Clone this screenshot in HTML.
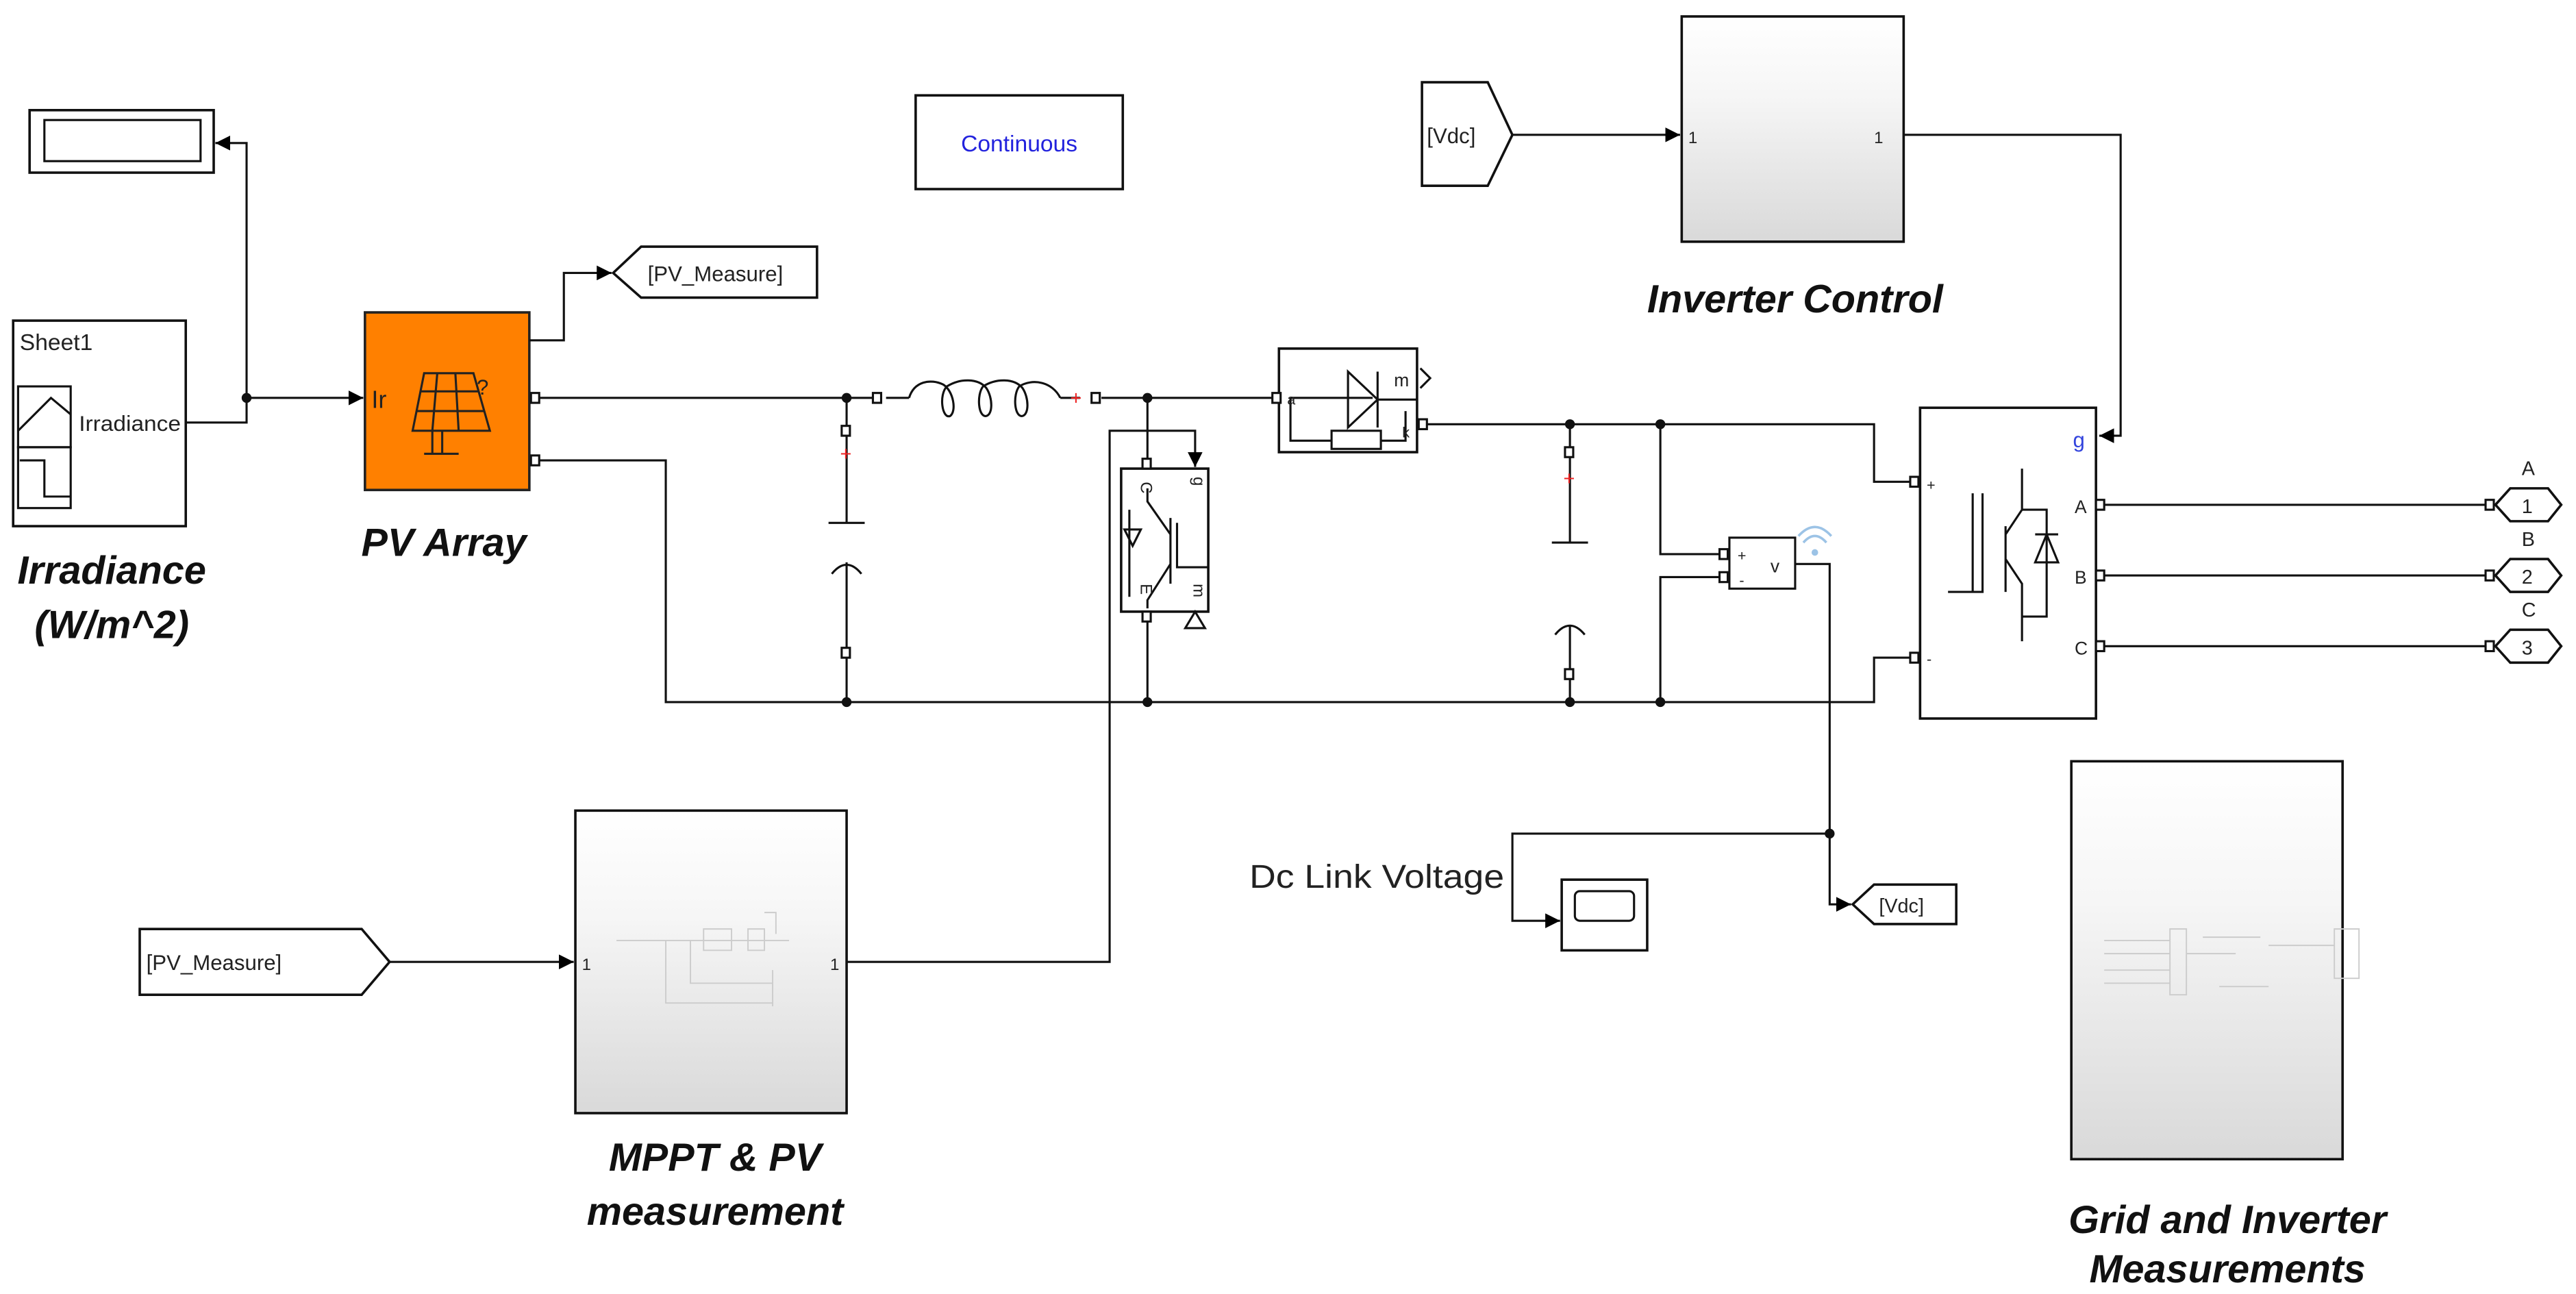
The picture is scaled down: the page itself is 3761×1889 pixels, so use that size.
<!DOCTYPE html>
<html><head><meta charset="utf-8"><style>
html,body{margin:0;padding:0;background:#fff;}
svg{display:block;}
text{font-family:"Liberation Sans",Arial,sans-serif;}
.b{font-weight:bold;font-style:italic;font-size:24px;fill:#111;}
</style></head><body>
<svg width="3761" height="1889" viewBox="0 0 1567 787" preserveAspectRatio="none" xmlns="http://www.w3.org/2000/svg">
<defs>
<linearGradient id="g1" x1="0" y1="0" x2="0" y2="1"><stop offset="0" stop-color="#fff"/><stop offset="0.35" stop-color="#f6f6f6"/><stop offset="1" stop-color="#d9d9d9"/></linearGradient>
<marker id="ar" viewBox="0 0 10 10" refX="10" refY="5" markerWidth="9" markerHeight="9" markerUnits="userSpaceOnUse" orient="auto"><path d="M0,0L10,5L0,10z" fill="#000"/></marker>
</defs>
<g fill="none" stroke="#111" stroke-width="1.3">
<rect x="18" y="67" width="112" height="38" fill="#fff" stroke-width="1.5"/>
<rect x="27" y="73" width="95" height="25"/>
<rect x="8" y="195" width="105" height="125" fill="#fff" stroke-width="1.5"/>
<rect x="11" y="235" width="32" height="37"/>
<rect x="11" y="272" width="32" height="37"/>
<path d="M11,262 L31,242 L43,252"/>
<path d="M12,280 L27,280 L27,302 L43,302"/>
<path d="M113,257 H150 V87 H131" marker-end="url(#ar)"/>
<path d="M150,242 H221" marker-end="url(#ar)"/>
<rect x="222" y="190" width="100" height="108" fill="#ff8000" stroke="#222" stroke-width="1.5"/>
<path d="M258,227 L288,227 L298,262 L251,262 Z M256,238 L291,238 M253,250 L295,250 M266,227 L263,262 M277,227 L279,262 M263,262 V276 M269,262 V276 M258,276 H279" stroke="#222"/>
<path d="M322,207 H343 V166 H372" marker-end="url(#ar)"/>
<path d="M373,166 L390,150 H497 V181 H390 Z" fill="#fff" stroke-width="1.5"/>
<path d="M326,242 H533"/>
<path d="M539,242 H553 M645,242 H657 M670,242 H775"/>
<path d="M553,242 C556,232 566,230 574,234 C580,238 582,250 578,253 C573,255 571,240 576,235 C584,230 595,230 600,236 C604,242 604,252 600,253 C595,254 594,240 598,235 C606,230 617,230 622,236 C626,242 626,252 622,253 C617,254 616,240 620,235 C628,230 640,232 645,242"/>
<path d="M326,280 H405 V427 H1140 V400 H1162"/>
<path d="M515,242 V318 M504,318 H526 M506,349 Q515,338 524,349 M515,342 V427"/>
<path d="M698,242 V282 M698,375 V427"/>
<path d="M515,585 H675 V262 H727 V284" marker-end="url(#ar)"/>
<rect x="682" y="285" width="53" height="87" fill="#fff" stroke-width="1.5"/>
<path d="M698,297 V305 L712,325 M712,315 V355 M716,318 V345 H735 M712,343 L698,365 V370 M687,310 V363 M684,322 H694 L689,332 Z"/>
<path d="M727,372 L733,382 L721,382 Z" fill="#fff"/>
<rect x="778" y="212" width="84" height="63" fill="#fff" stroke-width="1.5"/>
<path d="M785,242 H835 M820,226 V260 L838,243 Z M838,226 V260 M838,243 H862 M785,242 V268 H810 M810,262 H840 V273 H810 Z M840,268 H855 V250"/>
<path d="M864,224 L870,230 L864,236" fill="none"/>
<path d="M866,258 H1140 V293 H1162"/>
<path d="M955,258 V330 M944,330 H966 M946,386 Q955,375 964,386 M955,380 V427"/>
<path d="M1010,258 V337 H1047 M1010,427 V351 H1047"/>
<rect x="1052" y="327" width="40" height="31" fill="#fff"/>
<path d="M1092,343 H1113 V550 H1126" marker-end="url(#ar)"/>
<path d="M1113,507 H920 V560 H949" marker-end="url(#ar)"/>
<rect x="950" y="535" width="52" height="43" fill="#fff" stroke-width="1.5"/>
<rect x="958" y="542" width="36" height="18" rx="3"/>
<path d="M1127,550 L1140,538 H1190 V562 H1140 Z" fill="#fff" stroke-width="1.5"/>
<rect x="1168" y="248" width="107" height="189" fill="#fff" stroke-width="1.5"/>
<path d="M1230,285 V310 L1220,325 M1200,300 V360 M1206,300 V360 H1185 M1220,320 V360 M1220,340 L1230,355 V390 M1230,310 H1245 V375 H1230 M1238,325 H1252 M1245,325 L1238,342 H1252 Z"/>
<path d="M1280,307 H1512 M1280,350 H1512 M1280,393 H1512"/>
<path d="M1518,307 L1527,297 H1550 L1558,307 L1550,317 H1527 Z M1518,350 L1527,340 H1550 L1558,350 L1550,360 H1527 Z M1518,393 L1527,383 H1550 L1558,393 L1550,403 H1527 Z" fill="#fff" stroke-width="1.5"/>
<rect x="557" y="58" width="126" height="57" fill="#fff" stroke-width="1.5"/>
<rect x="1023" y="10" width="135" height="137" fill="url(#g1)" stroke-width="1.5"/>
<path d="M865,50 H905 L920,82 L905,113 H865 Z" fill="#fff" stroke-width="1.5"/>
<path d="M920,82 H1022" marker-end="url(#ar)"/>
<path d="M1158,82 H1290 V265 H1277" marker-end="url(#ar)"/>
<rect x="350" y="493" width="165" height="184" fill="url(#g1)" stroke-width="1.5"/>
<path d="M85,565 H220 L237,585 L220,605 H85 Z" fill="#fff" stroke-width="1.5"/>
<path d="M237,585 H349" marker-end="url(#ar)"/>
<g stroke="#ccc" stroke-width="0.8"><path d="M375,572 H480 M405,572 V610 H470 M420,572 V598 H470 M470,590 V612 M428,565 H445 V578 H428 Z M455,565 H465 V578 H455 Z M465,555 H472 V568"/></g>
<rect x="1260" y="463" width="165" height="242" fill="url(#g1)" stroke-width="1.5"/>
<g stroke="#ccc" stroke-width="0.8"><path d="M1280,572 H1320 M1280,580 H1320 M1280,590 H1320 M1280,598 H1320 M1320,565 H1330 V605 H1320 Z M1330,580 H1360 M1340,570 H1375 M1350,600 H1380 M1420,565 H1435 V595 H1420 Z M1380,575 H1420"/></g>
</g>
<g fill="#fff" stroke="#111" stroke-width="1.3">
<rect x="323" y="239" width="5" height="6"/><rect x="323" y="277" width="5" height="6"/>
<rect x="531" y="239" width="5" height="6"/><rect x="664" y="239" width="5" height="6"/>
<rect x="512" y="259" width="5" height="6"/><rect x="512" y="394" width="5" height="6"/>
<rect x="952" y="272" width="5" height="6"/><rect x="952" y="407" width="5" height="6"/>
<rect x="695" y="279" width="5" height="6"/><rect x="695" y="372" width="5" height="6"/>
<rect x="774" y="239" width="5" height="6"/><rect x="863" y="255" width="5" height="6"/>
<rect x="1046" y="334" width="5" height="6"/><rect x="1046" y="348" width="5" height="6"/>
<rect x="1162" y="290" width="5" height="6"/><rect x="1162" y="397" width="5" height="6"/>
<rect x="1275" y="304" width="5" height="6"/><rect x="1275" y="347" width="5" height="6"/><rect x="1275" y="390" width="5" height="6"/>
<rect x="1512" y="304" width="5" height="6"/><rect x="1512" y="347" width="5" height="6"/><rect x="1512" y="390" width="5" height="6"/>
</g>
<g fill="#111">
<circle cx="150" cy="242" r="3"/><circle cx="515" cy="242" r="3"/><circle cx="698" cy="242" r="3"/>
<circle cx="515" cy="427" r="3"/><circle cx="698" cy="427" r="3"/><circle cx="955" cy="427" r="3"/><circle cx="1010" cy="427" r="3"/>
<circle cx="955" cy="258" r="3"/><circle cx="1010" cy="258" r="3"/><circle cx="1113" cy="507" r="3"/>
</g>
<g fill="#e22" font-size="12"><text x="511" y="280">+</text><text x="651" y="246">+</text><text x="951" y="295">+</text></g>
<g fill="none" stroke="#9cc3e6" stroke-width="1.5"><path d="M1097,330 Q1104,322 1111,330 M1094,326 Q1104,315 1114,326"/></g>
<circle cx="1104" cy="336" r="2" fill="#9cc3e6"/>
<g fill="#222">
<text x="12" y="213" font-size="14">Sheet1</text>
<text x="48" y="262" font-size="13" textLength="62" lengthAdjust="spacingAndGlyphs">Irradiance</text>
<text x="226" y="248" font-size="15">Ir</text>
<text x="290" y="240" font-size="13">?</text>
<text x="394" y="171" font-size="13">[PV_Measure]</text>
<text x="89" y="590" font-size="13">[PV_Measure]</text>
<text x="868" y="87" font-size="13">[Vdc]</text>
<text x="1143" y="555" font-size="12">[Vdc]</text>
<text x="1027" y="87" font-size="10">1</text><text x="1140" y="87" font-size="10">1</text>
<text x="354" y="590" font-size="10">1</text><text x="505" y="590" font-size="10">1</text>
<text x="848" y="235" font-size="11">m</text><text x="853" y="266" font-size="9">k</text><text x="783" y="246" font-size="9">a</text>
<text x="693" y="300" font-size="10" transform="rotate(90 697 297)">C</text>
<text x="725" y="297" font-size="10" transform="rotate(90 729 294)">g</text>
<text x="693" y="362" font-size="10" transform="rotate(90 697 359)">E</text>
<text x="725" y="362" font-size="10" transform="rotate(90 729 359)">m</text>
<text x="1057" y="341" font-size="9">+</text><text x="1058" y="356" font-size="9">-</text><text x="1077" y="348" font-size="11">v</text>
<text x="1172" y="298" font-size="9">+</text><text x="1172" y="404" font-size="9">-</text>
<text x="1262" y="312" font-size="11">A</text><text x="1262" y="355" font-size="11">B</text><text x="1262" y="398" font-size="11">C</text>
<text x="1534" y="289" font-size="12">A</text><text x="1534" y="332" font-size="12">B</text><text x="1534" y="375" font-size="12">C</text>
<text x="1534" y="312" font-size="12">1</text><text x="1534" y="355" font-size="12">2</text><text x="1534" y="398" font-size="12">3</text>
<text x="760" y="540" font-size="20" textLength="155" lengthAdjust="spacingAndGlyphs">Dc Link Voltage</text>
</g>
<text x="1261" y="272" font-size="13" fill="#3344dd">g</text>
<text x="620" y="92" font-size="14" fill="#2222dd" text-anchor="middle">Continuous</text>
<text class="b" x="68" y="355" text-anchor="middle">Irradiance</text>
<text class="b" x="68" y="388" text-anchor="middle">(W/m^2)</text>
<text class="b" x="270" y="338" text-anchor="middle">PV Array</text>
<text class="b" x="1092" y="190" text-anchor="middle">Inverter Control</text>
<text class="b" x="435" y="712" text-anchor="middle">MPPT &amp; PV</text>
<text class="b" x="435" y="745" text-anchor="middle">measurement</text>
<text class="b" x="1355" y="750" text-anchor="middle">Grid and Inverter</text>
<text class="b" x="1355" y="780" text-anchor="middle">Measurements</text>
</svg>
</body></html>
